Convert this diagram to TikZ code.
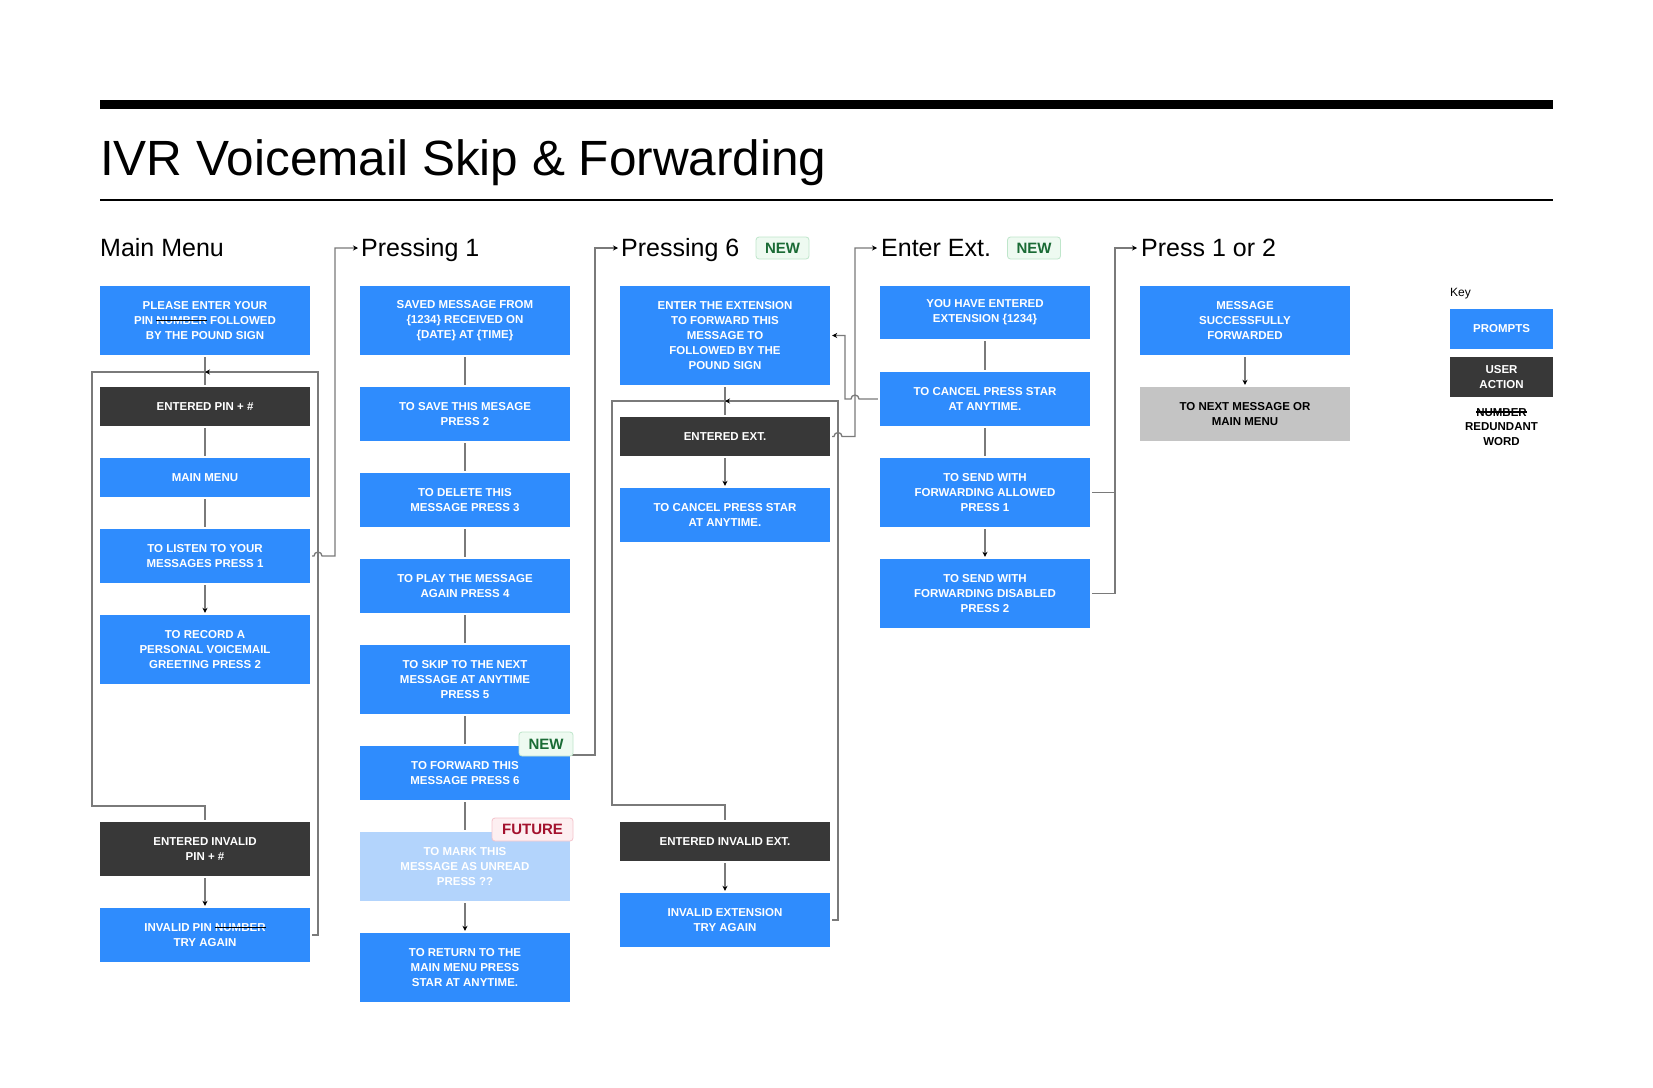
\documentclass[tikz,border=0pt]{standalone}
\usepackage{fontspec}
\setmainfont{Liberation Sans}
\usepackage{xcolor}
\usepackage{tikz}
\usetikzlibrary{arrows.meta}

\definecolor{promptblue}{HTML}{2F8CFD}
\definecolor{actiondark}{HTML}{383838}
\definecolor{laterblue}{HTML}{B3D4FC}
\definecolor{endgray}{HTML}{C4C4C4}
\definecolor{linegray}{HTML}{7A7A7A}
\definecolor{newbg}{HTML}{EEFAF1}
\definecolor{newline}{HTML}{BFE6CB}
\definecolor{newtext}{HTML}{1A6B35}
\definecolor{futbg}{HTML}{FDEFF1}
\definecolor{futline}{HTML}{F5C4CC}
\definecolor{futtext}{HTML}{A3122E}

\newcommand{\boxfont}{\fontsize{11.5}{14.8}\selectfont\bfseries}
\newsavebox\strkbox
\newcommand{\strikeword}[1]{\sbox\strkbox{#1}\rlap{\usebox\strkbox}\textcolor{black}{\rule[0.3em]{\wd\strkbox}{1.5pt}}}

\begin{document}
\begin{tikzpicture}[x=1pt, y=-1pt,
  prompt/.style={fill=promptblue, text=white, font=\boxfont, minimum width=210pt, inner sep=0pt, align=center},
  action/.style={prompt, fill=actiondark},
  later/.style={prompt, fill=laterblue},
  endbox/.style={prompt, fill=endgray, text=black},
  heading/.style={anchor=base west, inner sep=0pt, font=\fontsize{25}{30}\selectfont},
  badge/.style={rounded corners=3pt, line width=0.8pt, font=\fontsize{15}{15}\selectfont\bfseries, inner sep=0pt, minimum height=22pt},
  newtag/.style={badge, fill=newbg, draw=newline, text=newtext, minimum width=53pt},
  futuretag/.style={badge, fill=futbg, draw=futline, text=futtext, minimum width=81pt},
  link/.style={draw=linegray, line width=1.3pt, shorten <=2pt, shorten >=2pt},
  arr/.style={link, -{Stealth[length=5pt, width=5pt, black]}}
]
\useasboundingbox (0,0) rectangle (1653,1087);
\fill[white] (0,0) rectangle (1653,1087);

\fill[black] (100,100) rectangle (1553,109);
\node[anchor=base west, inner sep=0pt, font=\fontsize{49.5}{60}\selectfont] (title) at (100,175) {IVR Voicemail Skip \& Forwarding};
\draw[line width=1.2pt] (100,200) -- (1553,200);

\node[heading] (hmain) at (100,256) {Main Menu};
\node[heading] (hpress1) at (361,256) {Pressing 1};
\node[heading] (hpress6) at (621,256) {Pressing 6};
\node[newtag] (tag6) at (782.5,248) {NEW};
\node[heading] (hext) at (881,256) {Enter Ext.};
\node[newtag] (tagext) at (1034,248) {NEW};
\node[heading] (hchoice) at (1141,256) {Press 1 or 2};

\coordinate (in1) at (358,248);
\coordinate (in6) at (618,248);
\coordinate (inext) at (877,248);
\coordinate (inchoice) at (1137,248);

\node[prompt, minimum height=69pt] (please) at (205,320.5) {PLEASE ENTER YOUR\\PIN \strikeword{NUMBER} FOLLOWED\\BY THE POUND SIGN};
\node[action, minimum height=39pt] (pin) at (205,406.5) {ENTERED PIN + \#};
\node[prompt, minimum height=39pt] (menu) at (205,477.5) {MAIN MENU};
\node[prompt, minimum height=54pt] (listen) at (205,556) {TO LISTEN TO YOUR\\MESSAGES PRESS 1};
\node[prompt, minimum height=69pt] (record) at (205,649.5) {TO RECORD A\\PERSONAL VOICEMAIL\\GREETING PRESS 2};
\node[action, minimum height=54pt] (badpin) at (205,849) {ENTERED INVALID\\PIN + \#};
\node[prompt, minimum height=54pt] (retrypin) at (205,935) {INVALID PIN \strikeword{NUMBER}\\TRY AGAIN};

\node[prompt, minimum height=69pt] (saved) at (465,320.5) {SAVED MESSAGE FROM\\\{1234\} RECEIVED ON\\\{DATE\} AT \{TIME\}};
\node[prompt, minimum height=54pt] (save) at (465,414) {TO SAVE THIS MESAGE\\PRESS 2};
\node[prompt, minimum height=54pt] (delete) at (465,500) {TO DELETE THIS\\MESSAGE PRESS 3};
\node[prompt, minimum height=54pt] (replay) at (465,586) {TO PLAY THE MESSAGE\\AGAIN PRESS 4};
\node[prompt, minimum height=69pt] (skip) at (465,679.5) {TO SKIP TO THE NEXT\\MESSAGE AT ANYTIME\\PRESS 5};
\node[prompt, minimum height=54pt] (forward) at (465,773) {TO FORWARD THIS\\MESSAGE PRESS 6};
\node[later, minimum height=69pt] (unread) at (465,866.5) {TO MARK THIS\\MESSAGE AS UNREAD\\PRESS ??};
\node[prompt, minimum height=69pt] (back) at (465,967.5) {TO RETURN TO THE\\MAIN MENU PRESS\\STAR AT ANYTIME.};

\node[prompt, minimum height=99pt] (extask) at (725,335.5) {ENTER THE EXTENSION\\TO FORWARD THIS\\MESSAGE TO\\FOLLOWED BY THE\\POUND SIGN};
\node[action, minimum height=39pt] (extin) at (725,436.5) {ENTERED EXT.};
\node[prompt, minimum height=54pt] (extcancel) at (725,515) {TO CANCEL PRESS STAR\\AT ANYTIME.};
\node[action, minimum height=39pt] (badext) at (725,841.5) {ENTERED INVALID EXT.};
\node[prompt, minimum height=54pt] (retryext) at (725,920) {INVALID EXTENSION\\TRY AGAIN};

\node[prompt, minimum height=53pt] (youent) at (985,312.5) {YOU HAVE ENTERED\\EXTENSION \{1234\}};
\node[prompt, minimum height=54pt] (fwdcancel) at (985,399) {TO CANCEL PRESS STAR\\AT ANYTIME.};
\node[prompt, minimum height=69pt] (allowed) at (985,492.5) {TO SEND WITH\\FORWARDING ALLOWED\\PRESS 1};
\node[prompt, minimum height=69pt] (disabled) at (985,593.5) {TO SEND WITH\\FORWARDING DISABLED\\PRESS 2};

\node[prompt, minimum height=69pt] (done) at (1245,320.5) {MESSAGE\\SUCCESSFULLY\\FORWARDED};
\node[endbox, minimum height=54pt] (nextmsg) at (1245,414) {TO NEXT MESSAGE OR\\MAIN MENU};

\node[anchor=west, inner sep=0pt, font=\fontsize{12}{14}\selectfont] (keylabel) at (1450,294) {Key};
\node[prompt, minimum width=103pt, minimum height=40pt] (keyprompt) at (1501.5,329) {PROMPTS};
\node[action, minimum width=103pt, minimum height=40pt] (keyaction) at (1501.5,377) {USER\\ACTION};
\node[align=center, font=\boxfont, inner sep=0pt] (keyword) at (1501.5,427) {\strikeword{NUMBER}\\REDUNDANT\\WORD};

\draw[link] (please) -- (pin);
\draw[link] (pin) -- (menu);
\draw[link] (menu) -- (listen);
\draw[arr] (listen) -- (record);
\draw[arr] (badpin) -- (retrypin);
\coordinate (loop1) at (205,372);
\draw[link, shorten <=0pt] (loop1) -| (92,806) -| (badpin.north);
\draw[arr, shorten >=0pt] (retrypin.east) -| (318,372) -- (loop1);
\draw[arr, shorten >=0pt] (listen.east) -- (314,556) arc[start angle=180, end angle=0, radius=4pt] -- (335,556) |- (in1);

\draw[link] (saved) -- (save);
\draw[link] (save) -- (delete);
\draw[link] (delete) -- (replay);
\draw[link] (replay) -- (skip);
\draw[link] (skip) -- (forward);
\draw[link] (forward) -- (unread);
\draw[arr] (unread) -- (back);
\draw[arr, shorten >=0pt] ([yshift=18pt]forward.east) -- (595,755) |- (in6);

\draw[link] (extask) -- (extin);
\draw[arr] (extin) -- (extcancel);
\draw[arr] (badext) -- (retryext);
\coordinate (loop3) at (725,401);
\draw[link, shorten <=0pt] (loop3) -| (612,805) -| (badext.north);
\draw[arr, shorten >=0pt] (retryext.east) -| (838,401) -- (loop3);
\draw[arr, shorten >=0pt] (extin.east) -- (834,436.5) arc[start angle=180, end angle=0, radius=4pt] -- (855,436.5) |- (inext);

\draw[link] (youent) -- (fwdcancel);
\draw[link] (fwdcancel) -- (allowed);
\draw[arr] (allowed) -- (disabled);
\draw[arr] (fwdcancel.west) -- (859,399) arc[start angle=0, end angle=180, radius=4pt] -- (845,399) |- (extask.east);
\draw[link, shorten >=0pt] (allowed.east) -- (1115,492.5);
\draw[arr, shorten >=0pt] (disabled.east) -| (1115,248) -- (inchoice);

\draw[arr] (done) -- (nextmsg);

\node[newtag, minimum width=54pt, minimum height=24pt] (tagfwd) at (546,744) {NEW};
\node[futuretag, minimum height=23pt] (tagunread) at (532.5,829.5) {FUTURE};
\end{tikzpicture}
\end{document}
